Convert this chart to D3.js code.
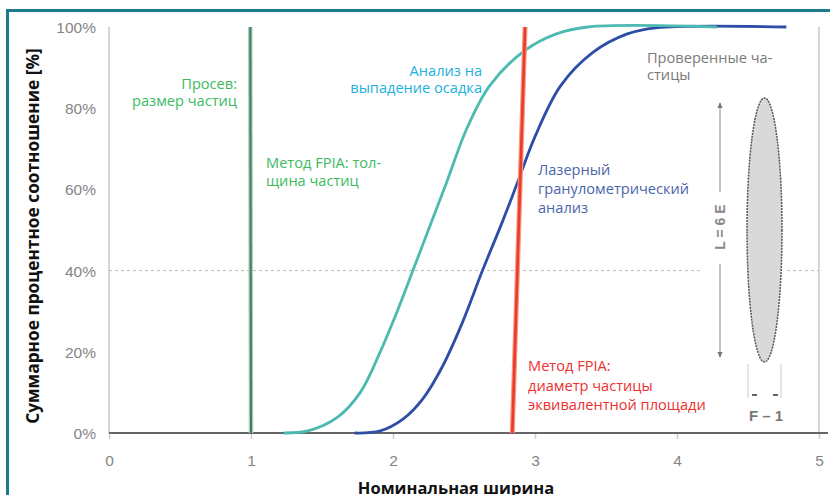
<!DOCTYPE html>
<html>
<head>
<meta charset="utf-8">
<script src="https://cdn.jsdelivr.net/npm/d3@7"></script>
<style>
  body { margin: 0; background: #fff; }
  svg { display: block; }
  .lbl { font-family: "Open Sans", sans-serif; font-size: 14.6px; }
  .tick text { font-family: "Liberation Sans", sans-serif; font-size: 15.5px; fill: #858585; }
</style>
</head>
<body>
<div id="chart"></div>
<script>

// ---- data ----
var xTicks = [0, 1, 2, 3, 4, 5];
var yTicks = [0, 20, 40, 60, 80, 100];
var gridY = [40];

// [nominal width, cumulative %]
var sieve = [[1.0, 0], [0.995, 100]];
var fpiaDiameter = [[2.84, 0], [2.93, 100]];
var sedimentation = [[1.23, 0], [1.40, 0.5], [1.61, 3.9], [1.77, 10], [1.91, 20], [2.03, 30], [2.14, 40],
  [2.26, 51], [2.37, 61], [2.52, 75], [2.68, 85.5], [2.92, 94], [3.15, 98.3], [3.37, 100], [4.28, 100]];
var laser = [[1.73, 0], [1.91, 0.5], [2.07, 3.4], [2.21, 8.4], [2.35, 16.5], [2.49, 27.3], [2.63, 40],
  [2.77, 52], [2.88, 62], [3.0, 73], [3.18, 85.5], [3.41, 93.8], [3.65, 98.3], [3.85, 99.8], [4.77, 100]];

var yTitle = "Суммарное процентное соотношение [%]";
var xTitle = "Номинальная ширина";

var W = 830, H = 495;

var svg = d3.select("#chart").append("svg").attr("width", W).attr("height", H);

var x = d3.scaleLinear().domain([0, 5]).range([109, 819]);
var y = d3.scaleLinear().domain([0, 100]).range([433, 27]);

// frame (only top and left visible)
svg.append("path")
  .attr("d", "M7.5," + H + "V10.5H" + W)
  .attr("fill", "none").attr("stroke", "#1d7a8d").attr("stroke-width", 3);

// light vertical borders at 0 and 5
svg.selectAll(".vb").data([0, 5]).enter().append("line")
  .attr("x1", function(d){ return x(d); }).attr("x2", function(d){ return x(d); })
  .attr("y1", y(100)).attr("y2", y(0))
  .attr("stroke", "#c8c8c8").attr("stroke-width", 1.5);

// dashed grid
svg.selectAll(".grid").data(gridY).enter().append("line")
  .attr("x1", x(0)).attr("x2", x(5))
  .attr("y1", function(d){ return y(d); }).attr("y2", function(d){ return y(d); })
  .attr("stroke", "#bbb").attr("stroke-dasharray", "3,3");

// x axis ticks + labels
var gx = svg.append("g").attr("transform", "translate(0," + y(0) + ")")
  .call(d3.axisBottom(x).tickValues(xTicks).tickSize(6).tickPadding(16).tickFormat(d3.format("d")));
gx.select(".domain").remove();
gx.selectAll(".tick line").attr("stroke", "#ccc").attr("stroke-width", 1.5);

// y axis labels
var gy = svg.append("g").attr("transform", "translate(" + (x(0) - 13) + ",0)")
  .call(d3.axisLeft(y).tickValues(yTicks).tickSize(0).tickPadding(0).tickFormat(function(d){ return d + "%"; }));
gy.select(".domain").remove();
gy.selectAll(".tick text").attr("dy", "0.35em");

// particle illustration (white backing so the grid breaks)
var part = svg.append("g");
part.append("rect").attr("x", 701).attr("y", 90).attr("width", 86).attr("height", 290).attr("fill", "#fff");
part.append("ellipse").attr("cx", 764.5).attr("cy", 230).attr("rx", 17.5).attr("ry", 132)
  .attr("fill", "#d9d9d9").attr("stroke", "#555").attr("stroke-width", 1.5).attr("stroke-dasharray", "2,1");
part.append("line").attr("x1", 720).attr("x2", 720).attr("y1", 103).attr("y2", 192).attr("stroke", "#888");
part.append("line").attr("x1", 720).attr("x2", 720).attr("y1", 264).attr("y2", 357).attr("stroke", "#888");
part.append("path").attr("d", "M717.5,108L720,102L722.5,108Z M717.5,352L720,358L722.5,352Z").attr("fill", "#777");
part.append("text").attr("transform", "translate(725,227) rotate(-90)")
  .attr("text-anchor", "middle").attr("font-family", "Liberation Sans, sans-serif")
  .attr("font-weight", "bold").attr("font-size", 14).attr("fill", "#888").text("L = 6 E");
part.append("line").attr("x1", 748).attr("x2", 748).attr("y1", 364).attr("y2", 398).attr("stroke", "#ccc");
part.append("line").attr("x1", 781).attr("x2", 781).attr("y1", 364).attr("y2", 398).attr("stroke", "#ccc");
part.append("path").attr("d", "M752,395H757 M773,395H778").attr("stroke", "#666").attr("stroke-width", 2);
part.append("text").attr("x", 766).attr("y", 421).attr("text-anchor", "middle")
  .attr("font-family", "Liberation Sans, sans-serif").attr("font-weight", "bold")
  .attr("font-size", 15).attr("fill", "#777").text("F – 1");

// zero axis line
svg.append("line").attr("x1", x(0)).attr("x2", 828).attr("y1", y(0)).attr("y2", y(0))
  .attr("stroke", "#666").attr("stroke-width", 2.2);

var line = d3.line().x(function(d){ return x(d[0]); }).y(function(d){ return y(d[1]); });
var smooth = d3.line().x(function(d){ return x(d[0]); }).y(function(d){ return y(d[1]); })
  .curve(d3.curveCatmullRom.alpha(0.5));

// series
svg.append("path").datum(sieve).attr("d", line).attr("fill", "none").attr("stroke", "#a9cdb9").attr("stroke-width", 4.5);
svg.append("path").datum(sieve).attr("d", line).attr("fill", "none").attr("stroke", "#3f7f62").attr("stroke-width", 2);

svg.append("path").datum(laser).attr("d", smooth).attr("fill", "none").attr("stroke", "#2c4ea6").attr("stroke-width", 2.8);
svg.append("path").datum(sedimentation).attr("d", smooth).attr("fill", "none").attr("stroke", "#4dbab2").attr("stroke-width", 2.8);

svg.append("path").datum(fpiaDiameter).attr("d", line).attr("fill", "none").attr("stroke", "#f49a80").attr("stroke-width", 5);
svg.append("path").datum(fpiaDiameter).attr("d", line).attr("fill", "none").attr("stroke", "#ec3a2c").attr("stroke-width", 2.6);

// annotations
function note(lines, px, py, anchor, color, lh) {
  var t = svg.append("text").attr("class", "lbl").attr("x", px).attr("y", py)
    .attr("text-anchor", anchor).attr("fill", color);
  lines.forEach(function(s, i){
    t.append("tspan").attr("x", px).attr("dy", i ? lh : 0).text(s);
  });
}
note(["Просев:", "размер частиц"], 237, 89, "end", "#3dba62", 17);
note(["Метод FPIA: тол-", "щина частиц"], 266, 168, "start", "#3dba62", 18);
note(["Анализ на", "выпадение осадка"], 482, 76, "end", "#22b0de", 17);
note(["Проверенные ча-", "стицы"], 647, 63, "start", "#7a7a7a", 17);
note(["Лазерный", "гранулометрический", "анализ"], 538, 175, "start", "#4a66a8", 19);
note(["Метод FPIA:", "диаметр частицы", "эквивалентной площади"], 528, 371, "start", "#ee2f2f", 19.5);

// axis titles
svg.append("text").attr("transform", "translate(38.5,236) rotate(-90)").attr("text-anchor", "middle")
  .attr("font-family", "Open Sans, sans-serif").attr("font-weight", "bold").attr("font-size", 17.3)
  .attr("fill", "#111").text(yTitle);
svg.append("text").attr("x", 456).attr("y", 494).attr("text-anchor", "middle")
  .attr("font-family", "Open Sans, sans-serif").attr("font-weight", "bold").attr("font-size", 16.5)
  .attr("fill", "#111").text(xTitle);

</script>
</body>
</html>
